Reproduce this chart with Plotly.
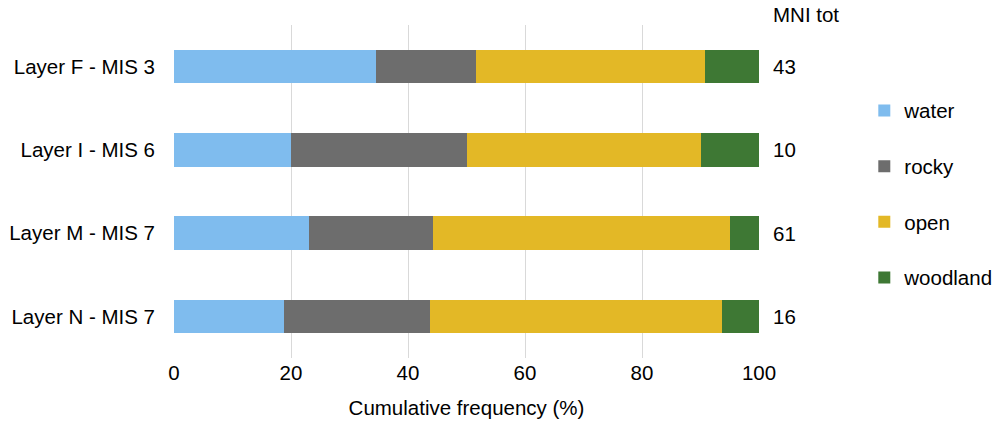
import plotly.graph_objects as go

layers = ["Layer F - MIS 3", "Layer I - MIS 6", "Layer M - MIS 7", "Layer N - MIS 7"]
water = [34.5, 20.0, 23.0, 18.75]
rocky = [17.1, 30.0, 21.2, 25.0]
open_ = [39.2, 40.0, 50.8, 50.0]
woodland = [9.2, 10.0, 5.0, 6.25]
mni_tot = [43, 10, 61, 16]
x_ticks = [0, 20, 40, 60, 80, 100]

series = [
    ("water", water, "#7FBCEE"),
    ("rocky", rocky, "#6D6D6D"),
    ("open", open_, "#E3B826"),
    ("woodland", woodland, "#3E7834"),
]

font = "Liberation Sans, Arial, sans-serif"
FS = 20.5
fig = go.Figure()
for name, vals, col in series:
    fig.add_trace(go.Bar(
        y=layers, x=vals, name=name, orientation="h",
        marker=dict(color=col, line=dict(width=0)),
        legendgroup=name,
    ))

for lab, n in zip(layers, mni_tot):
    fig.add_annotation(x=1.0, xref="paper", y=lab, yref="y", text=str(n),
                       showarrow=False, xanchor="left", xshift=12,
                       font=dict(family=font, size=FS, color="#000"))
fig.add_annotation(x=1.0, xref="paper", y=1.0, yref="paper", text="MNI tot",
                   showarrow=False, xanchor="left", yanchor="middle", xshift=12, yshift=11,
                   font=dict(family=font, size=FS, color="#000"))

fig.update_layout(
    width=995, height=421,
    margin=dict(l=174, r=236, t=25, b=63, autoexpand=False),
    barmode="stack", bargap=0.6,
    plot_bgcolor="white", paper_bgcolor="white",
    font=dict(family=font, size=FS, color="#000"),
    showlegend=True,
    legend=dict(x=1.18, xanchor="left", y=0.492, yanchor="middle",
                traceorder="grouped", tracegroupgap=26,
                font=dict(family=font, size=FS, color="#000"),
                itemwidth=30),
    xaxis=dict(range=[0, 100], tickvals=x_ticks, showgrid=True, gridcolor="#D9D9D9",
               gridwidth=1, zeroline=False, showline=False, ticks="", ticklen=0,
               title=dict(text="Cumulative frequency (%)", standoff=18,
                          font=dict(family=font, size=FS)),
               tickfont=dict(family=font, size=FS)),
    yaxis=dict(autorange="reversed", showgrid=False, zeroline=False, showline=False,
               ticks="", ticklabelstandoff=18,
               tickfont=dict(family=font, size=FS)),
)
fig.write_html("out.html", config={"displayModeBar": False},
               post_script="document.body.style.margin='0';document.body.style.padding='0';")
